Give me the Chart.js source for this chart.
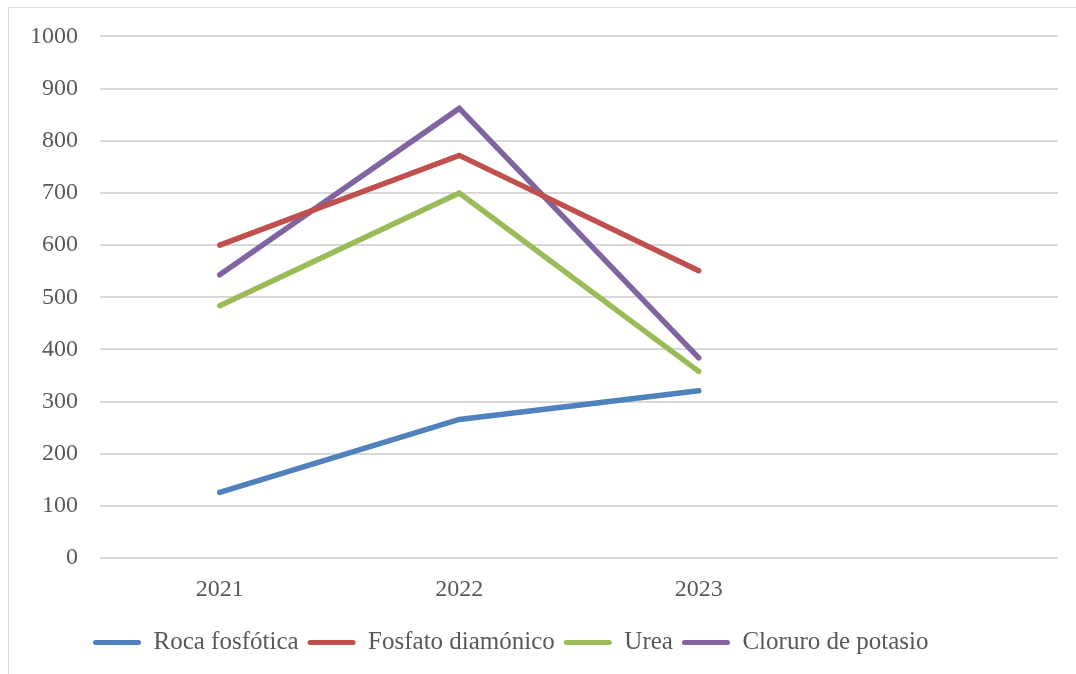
<!DOCTYPE html>
<html>
<head>
<meta charset="utf-8">
<script src="https://cdn.jsdelivr.net/npm/chart.js@4/dist/chart.umd.min.js"></script>
<style>
  html, body { margin: 0; padding: 0; background: #fff; overflow: hidden; }
  #wrap { position: relative; width: 1076px; height: 674px; }
  #frame { position: absolute; left: 8px; top: 7px; width: 1200px; height: 800px;
           border-left: 1px solid #d9d9d9; border-top: 1px solid #d9d9d9; pointer-events: none; }
  canvas { position: absolute; left: 0; top: 0; }
</style>
</head>
<body>
<div id="wrap">
  <canvas id="c" width="1076" height="674"></canvas>
  <div id="frame"></div>
</div>
<script>
const categories = ['2021', '2022', '2023', ''];
const rocaFosfotica = [126, 266, 321, null];
const fosfatoDiamonico = [600, 772, 551, null];
const urea = [484, 700, 358, null];
const cloruroPotasio = [543, 862, 384, null];
const yMin = 0, yMax = 1000, yStep = 100;

const FONT = "'Liberation Serif', 'Times New Roman', serif";
const TXT = '#595959';

function ds(label, data, color) {
  return {
    label: label, data: data,
    borderColor: color, backgroundColor: color,
    borderWidth: 5.5, pointRadius: 0, pointHoverRadius: 0,
    tension: 0, borderCapStyle: 'round', borderJoinStyle: 'miter', fill: false
  };
}

// shift the legend row so that it starts where the reference's does
const legendShift = {
  id: 'legendShift',
  afterLayout(chart) {
    if (chart.legend) { chart.legend.left = 84; }
  }
};

new Chart(document.getElementById('c'), {
  type: 'line',
  data: {
    labels: categories,
    datasets: [
      ds('Roca fosfótica', rocaFosfotica, '#4F81BD'),
      ds('Fosfato diamónico', fosfatoDiamonico, '#C0504D'),
      ds('Urea', urea, '#9BBB59'),
      ds('Cloruro de potasio', cloruroPotasio, '#8064A2')
    ]
  },
  plugins: [legendShift],
  options: {
    responsive: false,
    animation: false,
    devicePixelRatio: 1,
    layout: { padding: { left: 20, right: 18, top: 36, bottom: 9 } },
    plugins: {
      tooltip: { enabled: false },
      legend: {
        position: 'bottom',
        align: 'start',
        labels: {
          font: { family: FONT, size: 25 },
          color: TXT,
          boxWidth: 48,
          boxHeight: 5,
          padding: 9,
          useBorderRadius: true,
          borderRadius: 2.5,
          generateLabels: function(chart) {
            return chart.data.datasets.map((d, i) => ({
              text: d.label, fillStyle: d.borderColor, strokeStyle: d.borderColor,
              lineWidth: 0, hidden: false, datasetIndex: i, fontColor: TXT,
              borderRadius: 2.5
            }));
          }
        }
      }
    },
    scales: {
      x: {
        offset: true,
        grid: { display: false, drawTicks: false },
        border: { display: false },
        ticks: { font: { family: FONT, size: 24 }, color: TXT, padding: 17, maxRotation: 0 }
      },
      y: {
        min: yMin, max: yMax,
        afterFit: function(scale) { scale.width = 80; },
        grid: { color: '#d9d9d9', lineWidth: 2, drawTicks: false },
        border: { display: false },
        ticks: {
          stepSize: yStep, font: { family: FONT, size: 24 }, color: TXT, padding: 22,
          callback: function(v) { return String(v); }
        }
      }
    }
  }
});
</script>
</body>
</html>
